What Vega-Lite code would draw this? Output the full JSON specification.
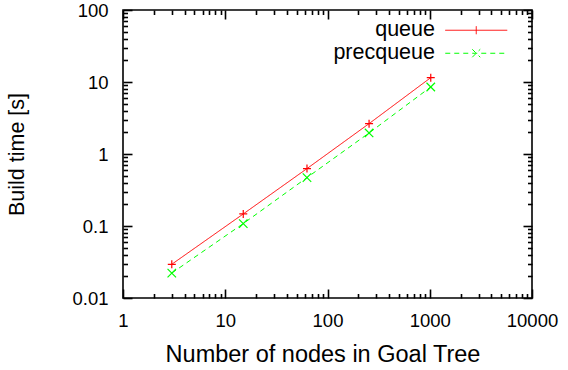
{
  "$schema": "https://vega.github.io/schema/vega-lite/v6.json",
  "width": 409,
  "height": 288,
  "autosize": "none",
  "padding": {"left": 123, "top": 10, "right": 36, "bottom": 72},
  "background": "white",
  "data": {
    "values": [
      {"series": "queue", "nodes": 3, "time": 0.0294},
      {"series": "queue", "nodes": 15, "time": 0.147},
      {"series": "queue", "nodes": 63, "time": 0.627},
      {"series": "queue", "nodes": 255, "time": 2.64},
      {"series": "queue", "nodes": 1023, "time": 11.5},
      {"series": "precqueue", "nodes": 3, "time": 0.0222},
      {"series": "precqueue", "nodes": 15, "time": 0.108},
      {"series": "precqueue", "nodes": 63, "time": 0.47},
      {"series": "precqueue", "nodes": 255, "time": 1.96},
      {"series": "precqueue", "nodes": 1023, "time": 8.53}
    ]
  },
  "resolve": {"axis": {"x": "independent", "y": "independent"}},
  "layer": [
    {
      "mark": {"type": "line", "strokeWidth": 1},
      "encoding": {
        "x": {
          "field": "nodes", "type": "quantitative",
          "scale": {"type": "log", "domain": [1, 10000], "nice": false},
          "axis": {
            "orient": "bottom", "values": [1, 10, 100, 1000, 10000], "zindex": 1,
            "ticks": true, "tickSize": -9, "tickColor": "black", "tickWidth": 1.6,
            "labelPadding": 22, "labelFontSize": 18.5, "format": "~g",
            "title": "Number of nodes in Goal Tree", "titleFontSize": 23.5,
            "titleY": 63.3, "titleX": 199.5, "titleBaseline": "alphabetic"
          }
        },
        "y": {
          "field": "time", "type": "quantitative",
          "scale": {"type": "log", "domain": [0.01, 100], "nice": false},
          "axis": {
            "orient": "left", "values": [0.01, 0.1, 1, 10, 100], "zindex": 1,
            "ticks": true, "tickSize": -9, "tickColor": "black", "tickWidth": 1.6,
            "labelPadding": 24, "labelFontSize": 18.5, "format": "~g",
            "title": "Build time [s]", "titleFontSize": 21.5,
            "titleX": -106, "titleY": 144, "titleAngle": -90,
            "titleBaseline": "middle", "titleAlign": "center"
          }
        },
        "color": {
          "field": "series", "type": "nominal",
          "scale": {"domain": ["queue", "precqueue"], "range": ["#ff0000", "#00ff00"]},
          "legend": {
            "orient": "none", "legendX": 342.5, "legendY": 9.5, "title": null,
            "padding": 0, "rowPadding": 0,
            "labelFontSize": 21.5, "labelAlign": "right", "labelOffset": -52,
            "labelColor": "black", "labelFont": "Liberation Sans",
            "symbolSize": 64, "symbolStrokeWidth": 1,
            "symbolType": "M-7.75,0L7.75,0M0,-1L0,1",
            "encode": {
              "symbols": {
                "update": {
                  "shape": {"signal": "datum.value === 'queue' ? 'M-7.75,0L7.75,0M0,-1L0,1' : 'M-7.75,0L7.75,0M-1,-1L1,1M-1,1L1,-1'"}
                }
              }
            }
          }
        },
        "strokeDash": {
          "field": "series", "type": "nominal",
          "scale": {"domain": ["queue", "precqueue"], "range": [[1, 0], [5, 4]]}
        }
      }
    },
    {
      "transform": [{"filter": "datum.series === 'queue'"}],
      "mark": {"type": "point", "filled": false, "strokeWidth": 1.2, "size": 64, "opacity": 1, "shape": "M-1,0L1,0M0,-1L0,1"},
      "encoding": {
        "x": {
          "field": "nodes", "type": "quantitative",
          "axis": {
            "orient": "bottom", "zindex": 1,
            "values": [2,3,4,5,6,7,8,9,20,30,40,50,60,70,80,90,200,300,400,500,600,700,800,900,2000,3000,4000,5000,6000,7000,8000,9000],
            "ticks": true, "tickSize": -4.5, "tickColor": "black", "tickWidth": 1.6, "labels": false, "title": null
          }
        },
        "y": {
          "field": "time", "type": "quantitative",
          "axis": {
            "orient": "left", "zindex": 1,
            "values": [0.02,0.03,0.04,0.05,0.06,0.07,0.08,0.09,0.2,0.3,0.4,0.5,0.6,0.7,0.8,0.9,2,3,4,5,6,7,8,9,20,30,40,50,60,70,80,90],
            "ticks": true, "tickSize": -4.5, "tickColor": "black", "tickWidth": 1.6, "labels": false, "title": null
          }
        },
        "color": {"field": "series", "type": "nominal"}
      }
    },
    {
      "transform": [{"filter": "datum.series === 'precqueue'"}],
      "mark": {"type": "point", "filled": false, "strokeWidth": 1.2, "size": 72, "opacity": 1, "shape": "M-1,-1L1,1M-1,1L1,-1"},
      "encoding": {
        "x": {
          "field": "nodes", "type": "quantitative",
          "axis": {"orient": "top", "zindex": 1, "values": [1, 10, 100, 1000, 10000], "ticks": true, "tickSize": -9, "tickColor": "black", "tickWidth": 1.6, "labels": false, "title": null}
        },
        "y": {
          "field": "time", "type": "quantitative",
          "axis": {"orient": "right", "zindex": 1, "values": [0.01, 0.1, 1, 10, 100], "ticks": true, "tickSize": -9, "tickColor": "black", "tickWidth": 1.6, "labels": false, "title": null}
        },
        "color": {"field": "series", "type": "nominal"}
      }
    },
    {
      "mark": {"type": "point", "opacity": 0},
      "encoding": {
        "x": {
          "field": "nodes", "type": "quantitative",
          "axis": {
            "orient": "top", "zindex": 1,
            "values": [2,3,4,5,6,7,8,9,20,30,40,50,60,70,80,90,200,300,400,500,600,700,800,900,2000,3000,4000,5000,6000,7000,8000,9000],
            "ticks": true, "tickSize": -4.5, "tickColor": "black", "tickWidth": 1.6, "labels": false, "title": null
          }
        },
        "y": {
          "field": "time", "type": "quantitative",
          "axis": {
            "orient": "right", "zindex": 1,
            "values": [0.02,0.03,0.04,0.05,0.06,0.07,0.08,0.09,0.2,0.3,0.4,0.5,0.6,0.7,0.8,0.9,2,3,4,5,6,7,8,9,20,30,40,50,60,70,80,90],
            "ticks": true, "tickSize": -4.5, "tickColor": "black", "tickWidth": 1.6, "labels": false, "title": null
          }
        }
      }
    }
  ],
  "config": {
    "font": "Liberation Sans",
    "view": {"stroke": "black", "strokeWidth": 1.6},
    "axis": {
      "grid": false, "domain": false,
      "labelColor": "black", "titleColor": "black", "titleFontWeight": "normal",
      "labelFont": "Liberation Sans", "titleFont": "Liberation Sans",
      "labelFlush": false, "labelOverlap": false, "labelBound": false
    },
    "legend": {"labelColor": "black"}
  }
}
